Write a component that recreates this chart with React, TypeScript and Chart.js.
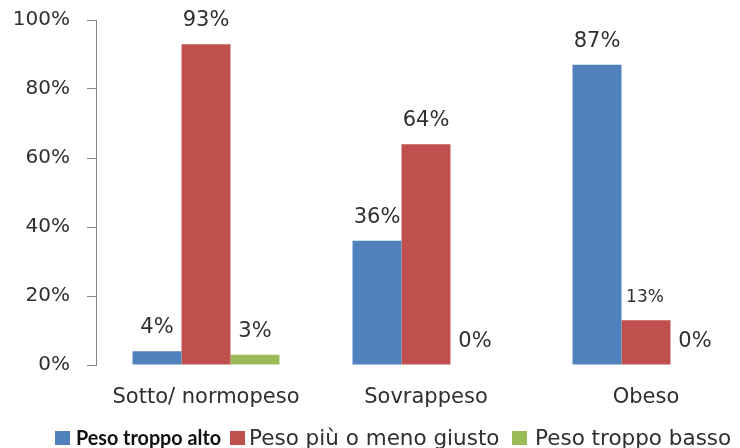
import React, { useEffect, useRef } from "react";
import { Chart, registerables } from "chart.js";

Chart.register(...registerables);

const categories = ["Sotto/ normopeso", "Sovrappeso", "Obeso"];
const seriesNames = ["Peso troppo alto", "Peso più o meno giusto", "Peso troppo basso"];
const tooHigh = [4, 36, 87];
const aboutRight = [93, 64, 13];
const tooLow = [3, 0, 0];
const yTickValues = [0, 20, 40, 60, 80, 100];
const seriesColors = ["#4F81BD", "#C0504D", "#9BBB59"];

const TEXT = "#2f2f2f";
const FONT = '"DejaVu Sans", sans-serif';

const dataLabelPlugin = {
  id: "dataLabels",
  afterDatasetsDraw(chart: any) {
    const ctx = chart.ctx;
    ctx.save();
    ctx.fillStyle = TEXT;
    ctx.textAlign = "center";
    ctx.textBaseline = "alphabetic";
    chart.data.datasets.forEach((ds: any, di: number) => {
      const meta = chart.getDatasetMeta(di);
      meta.data.forEach((el: any, i: number) => {
        const v = ds.data[i];
        const small = di === 1 && i === 2;
        const size = small ? 17 : 21;
        ctx.font = `${size}px ${FONT}`;
        const gap = small ? 24 : 25.5;
        ctx.fillText(v + "%", el.x + (small ? -1 : 0), el.y - gap + 0.365 * size);
      });
    });
    ctx.restore();
  },
};

const legendPlugin = {
  id: "customLegend",
  afterDraw(chart: any) {
    const ctx = chart.ctx;
    ctx.save();
    const itemX = [55, 230, 512];
    const textOffset = [21, 19, 23];
    const baseline = 445;
    chart.data.datasets.forEach((ds: any, di: number) => {
      const x = itemX[di];
      ctx.fillStyle = ds.backgroundColor;
      ctx.fillRect(x, 431, 15, 14);
      ctx.textAlign = "left";
      ctx.textBaseline = "alphabetic";
      if (di === 0) {
        ctx.fillStyle = "#111111";
        ctx.font = "bold 20px Lato, sans-serif";
        ctx.fillText(ds.label, x + textOffset[di], baseline, 145);
      } else {
        ctx.font = `21.5px ${FONT}`;
        ctx.fillStyle = TEXT;
        ctx.fillText(ds.label, x + textOffset[di], baseline);
      }
    });
    ctx.restore();
  },
};

export default function App() {
  const ref = useRef<HTMLCanvasElement | null>(null);

  useEffect(() => {
    if (!ref.current) return;
    const chart = new Chart(ref.current, {
      type: "bar",
      data: {
        labels: categories,
        datasets: [
          { label: seriesNames[0], data: tooHigh, backgroundColor: seriesColors[0] },
          { label: seriesNames[1], data: aboutRight, backgroundColor: seriesColors[1] },
          { label: seriesNames[2], data: tooLow, backgroundColor: seriesColors[2] },
        ],
      },
      options: {
        responsive: false,
        animation: false,
        devicePixelRatio: 1,
        layout: { padding: { top: 20, left: 0, right: 4, bottom: 0 } },
        datasets: {
          bar: { categoryPercentage: 0.668, barPercentage: 1, borderWidth: 0 },
        },
        plugins: {
          legend: { display: false },
          tooltip: { enabled: false },
        },
        scales: {
          x: {
            grid: { display: false, drawTicks: false },
            border: { display: false },
            ticks: { font: { family: FONT, size: 21 }, color: TEXT, padding: 20, maxRotation: 0 },
            afterFit: (s: any) => {
              s.height = 83;
              s.paddingLeft = 0;
              s.paddingRight = 0;
            },
          },
          y: {
            min: 0,
            max: 100,
            afterBuildTicks: (s: any) => {
              s.ticks = yTickValues.map((v) => ({ value: v }));
            },
            grid: { drawOnChartArea: false, drawTicks: true, tickLength: 9, color: "#868686" },
            border: { display: true, color: "#868686", width: 1 },
            ticks: {
              font: { family: FONT, size: 20 },
              color: TEXT,
              padding: 17,
              callback: (v: any) => v + "%",
            },
            afterFit: (s: any) => {
              s.width = 96;
              s.paddingTop = 0;
              s.paddingBottom = 0;
            },
          },
        },
      },
      plugins: [dataLabelPlugin, legendPlugin],
    });
    return () => chart.destroy();
  }, []);

  return (
    <div style={{ position: "absolute", left: 0, top: 0, width: 740, height: 448, overflow: "hidden", background: "#fff" }}>
      <canvas ref={ref} width={760} height={448} style={{ width: 760, height: 448, display: "block" }} />
    </div>
  );
}
